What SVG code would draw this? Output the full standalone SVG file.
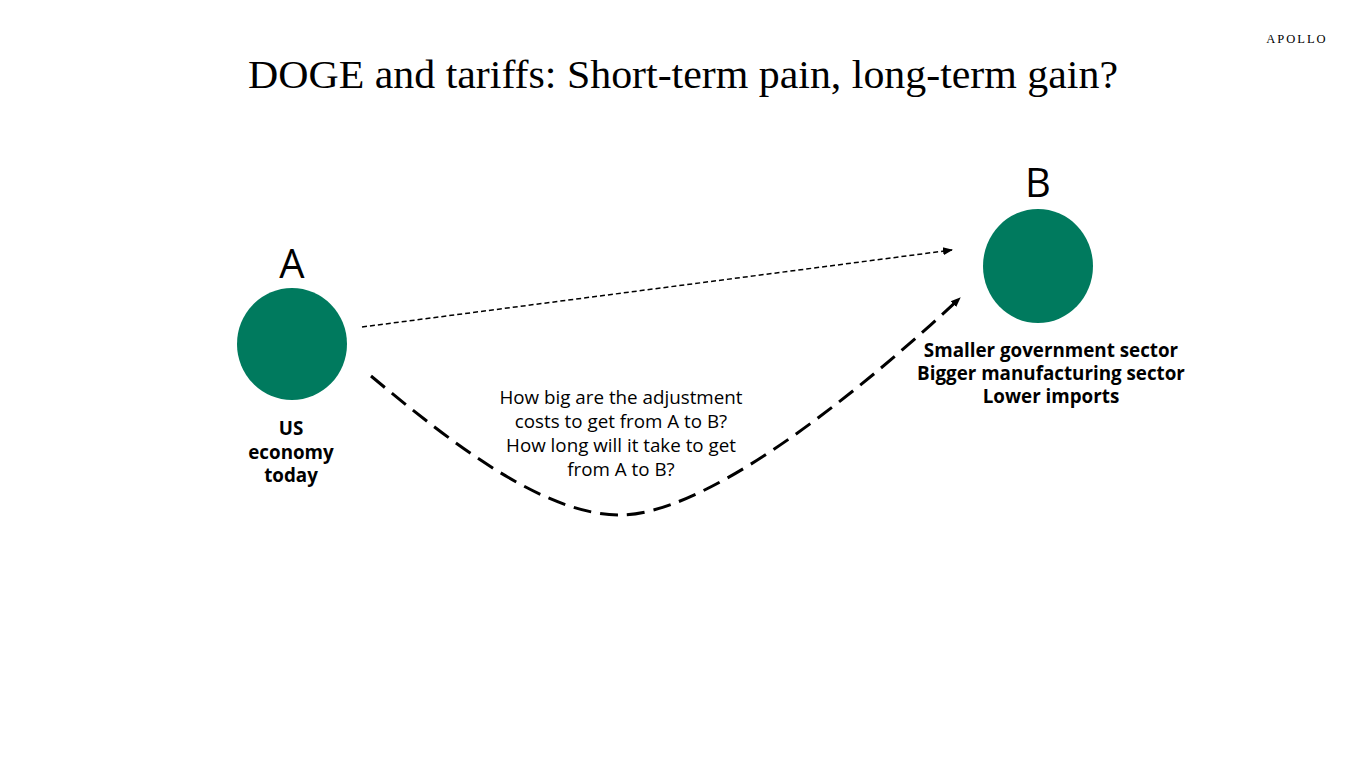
<svg xmlns="http://www.w3.org/2000/svg" width="1366" height="768" viewBox="0 0 1366 768">
<style>
.title{font-family:"Liberation Serif",serif;font-size:40px;fill:#000}
.logo{font-family:"Liberation Serif",serif;font-size:12.5px;letter-spacing:2px;fill:#000}
.big{font-family:"Open Sans","Noto Sans",sans-serif;font-size:40px;fill:#000}
.lbl{font-family:"Open Sans","Noto Sans",sans-serif;font-size:18.8px;font-weight:bold;fill:#000}
.q{font-family:"Open Sans","Noto Sans",sans-serif;font-size:18.8px;fill:#000}
.node{fill:#007a5e}
</style>
<defs>
<marker id="ah" viewBox="0 0 10 10" refX="9" refY="5" markerWidth="10" markerHeight="10" markerUnits="userSpaceOnUse" orient="auto">
<path d="M0,1 L10,5 L0,9 Z" fill="#000"/>
</marker>
</defs>
<rect width="1366" height="768" fill="#fff"/>
<text class="title" x="683" y="88" text-anchor="middle" textLength="870" lengthAdjust="spacingAndGlyphs">DOGE and tariffs: Short-term pain, long-term gain?</text>
<text class="logo" x="1297" y="43" text-anchor="middle">APOLLO</text>
<g id="nodeA">
<text class="big" x="292" y="278" text-anchor="middle">A</text>
<ellipse class="node" cx="292" cy="344" rx="55" ry="56"/>
<text class="lbl" x="291" y="435" text-anchor="middle">US</text>
<text class="lbl" x="291" y="459" text-anchor="middle">economy</text>
<text class="lbl" x="291" y="482" text-anchor="middle">today</text>
</g>
<g id="nodeB">
<text class="big" x="1038" y="197" text-anchor="middle">B</text>
<ellipse class="node" cx="1038" cy="266" rx="55" ry="57"/>
<text class="lbl" x="1051" y="357" text-anchor="middle">Smaller government sector</text>
<text class="lbl" x="1051" y="380" text-anchor="middle">Bigger manufacturing sector</text>
<text class="lbl" x="1051" y="403" text-anchor="middle">Lower imports</text>
</g>
<g id="question">
<text class="q" x="621" y="404" text-anchor="middle">How big are the adjustment</text>
<text class="q" x="621" y="428" text-anchor="middle">costs to get from A to B?</text>
<text class="q" x="621" y="452" text-anchor="middle">How long will it take to get</text>
<text class="q" x="621" y="476" text-anchor="middle">from A to B?</text>
</g>
<g id="connectors" fill="none" stroke="#000">
<line x1="362" y1="327" x2="952" y2="250" stroke-width="1.5" stroke-dasharray="5,3" marker-end="url(#ah)"/>
<path d="M371,376 C455,446 545,515 620,515 C700,515 840,410 960,298" stroke-width="3" stroke-dasharray="18,9" marker-end="url(#ah)"/>
</g>
</svg>
